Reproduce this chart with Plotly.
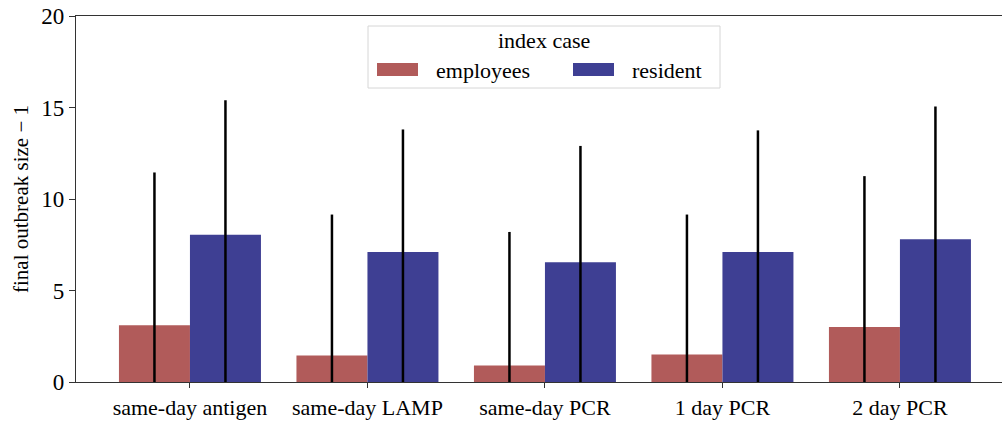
import plotly.graph_objects as go

categories = ["same-day antigen", "same-day LAMP", "same-day PCR", "1 day PCR", "2 day PCR"]
employees_mean = [3.1, 1.45, 0.9, 1.5, 3.0]
employees_upper = [11.45, 9.15, 8.2, 9.15, 11.25]
resident_mean = [8.05, 7.1, 6.55, 7.1, 7.8]
resident_upper = [15.4, 13.8, 12.9, 13.75, 15.05]
y_ticks = [0, 5, 10, 15, 20]
series_names = ["employees", "resident"]
series_colors = ["#b15b5a", "#3e3f93"]

FONT = "Liberation Serif"
W, H = 1002, 421
L, R, T, B = 76, 0, 16, 421 - 382
PW, PH = W - L - R, H - T - B


def px(xs):
    return (xs - L) / PW


def py(ys):
    return (H - B - ys) / PH


fig = go.Figure()
for name, col, mean, upper in [
    (series_names[0], series_colors[0], employees_mean, employees_upper),
    (series_names[1], series_colors[1], resident_mean, resident_upper),
]:
    fig.add_trace(go.Bar(
        name=name, x=categories, y=mean,
        marker=dict(color=col, line=dict(width=0)),
        error_y=dict(type="data", symmetric=False,
                     array=[u - m for u, m in zip(upper, mean)],
                     arrayminus=mean,
                     color="black", thickness=2.5, width=0),
        showlegend=False,
    ))

# custom legend (box, title, swatches, labels)
shapes = [dict(type="rect", xref="paper", yref="paper",
               x0=px(368), x1=px(720), y0=py(88), y1=py(26),
               line=dict(color="#d6d6d6", width=1), fillcolor="white", layer="above")]
annotations = [dict(text="index case", xref="paper", yref="paper", x=px(544), y=py(41),
                    xanchor="center", yanchor="middle", showarrow=False,
                    font=dict(family=FONT, size=22, color="black"))]
for i, (name, col) in enumerate(zip(series_names, series_colors)):
    x0 = 377 + 196 * i
    shapes.append(dict(type="rect", xref="paper", yref="paper",
                       x0=px(x0), x1=px(x0 + 41), y0=py(76), y1=py(63),
                       line=dict(width=0), fillcolor=col, layer="above"))
    annotations.append(dict(text=name, xref="paper", yref="paper", x=px(x0 + 57), y=py(70),
                            xanchor="left", yanchor="middle", showarrow=False,
                            font=dict(family=FONT, size=22, color="black")))

fig.update_layout(
    width=W, height=H,
    margin=dict(l=L, r=R, t=T, b=B, autoexpand=False),
    paper_bgcolor="white", plot_bgcolor="white",
    barmode="group", bargap=0.2, bargroupgap=0,
    font=dict(family=FONT, size=22, color="black"),
    showlegend=False,
    shapes=shapes, annotations=annotations,
    xaxis=dict(
        range=[-0.642, 4.575], showline=True, linecolor="#333333", linewidth=1.3,
        mirror=True, ticks="outside", ticklen=5, tickcolor="#333333",
        showgrid=False, tickfont=dict(family=FONT, size=22), automargin=False,
        ticklabeloverflow="allow",
    ),
    yaxis=dict(
        range=[0, 20], tickvals=y_ticks, showline=True, linecolor="#333333",
        linewidth=1.3, ticks="outside", ticklen=6, tickcolor="#333333",
        showgrid=False, zeroline=False, tickfont=dict(family=FONT, size=23),
        automargin=False, ticklabeloverflow="allow",
        title=dict(text="final outbreak size \u2212 1", font=dict(family=FONT, size=21), standoff=6),
    ),
)

fig.write_html("out.html",
               config={"displayModeBar": False},
               post_script="document.body.style.margin='0';document.body.style.overflow='hidden';")
